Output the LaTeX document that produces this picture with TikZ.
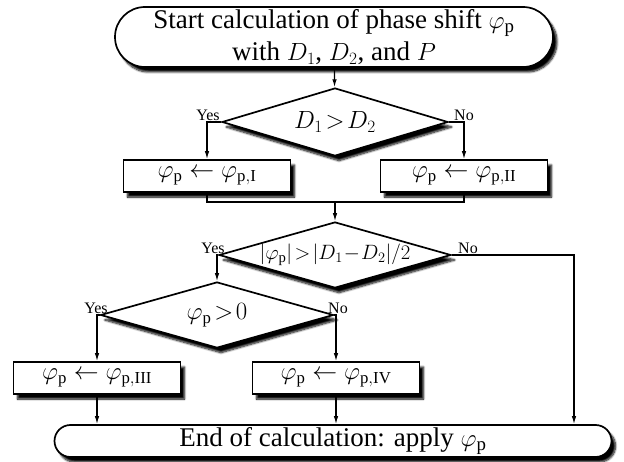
\documentclass[tikz,border=0pt]{standalone}
\usepackage{fontspec}
\setmainfont{Liberation Serif}
\usetikzlibrary{shapes.geometric,shadows.blur,arrows.meta}
\begin{document}
\begin{tikzpicture}[x=1pt,y=-1pt,
  every node/.style={inner sep=0pt},
  shad/.style={blur shadow={shadow xshift=4pt,shadow yshift=-5pt,shadow blur steps=8,shadow blur radius=2pt,shadow opacity=100}},
  term/.style={draw,line width=1.7pt,fill=white,shad,rounded corners=#1},
  procbox/.style={draw,line width=1.7pt,fill=white,shad,minimum width=167pt,minimum height=32pt,font=\fontsize{24}{26}\selectfont},
  decide/.style={diamond,draw,line width=1.7pt,fill=white,shad,minimum width=#1,font=\fontsize{24}{26}\selectfont},
  lbl/.style={font=\fontsize{16}{17}\selectfont,anchor=south},
  conn/.style={line width=1.2pt},
  arr/.style={conn,-{Latex[length=8pt,width=4.5pt]}}
]
\useasboundingbox (0,0) rectangle (624,462);

\node[term=30pt,minimum width=438pt,minimum height=60pt,align=center,
      font=\fontsize{27}{32}\selectfont] (start) at (334,37)
  {Start calculation of phase shift $\varphi_{\mathrm{p}}$\\with $D_1$, $D_2$, and $P$};

\node[decide=226pt,minimum height=68pt] (d1) at (335,122) {\makebox[0pt]{$D_1\!>\!D_2$}};
\node[procbox] (b1) at (207,176) {$\varphi_{\mathrm{p}}\leftarrow\varphi_{\mathrm{p,I}}$};
\node[procbox] (b2) at (464,176) {$\varphi_{\mathrm{p}}\leftarrow\varphi_{\mathrm{p,II}}$};
\coordinate (join) at (335,202);

\node[decide=232pt,minimum height=66pt] (d2) at (335,255)
  {\makebox[0pt]{\fontsize{21}{23}\selectfont$|\varphi_{\mathrm{p}}|\!>\!|D_1\!-\!D_2|/2$}};
\node[decide=233pt,minimum height=66pt] (d3) at (217,315) {\makebox[0pt]{$\varphi_{\mathrm{p}}\!>\!0$}};
\node[procbox] (b3) at (97,378) {$\varphi_{\mathrm{p}}\leftarrow\varphi_{\mathrm{p,III}}$};
\node[procbox] (b4) at (336,378) {$\varphi_{\mathrm{p}}\leftarrow\varphi_{\mathrm{p,IV}}$};
\node[term=16pt,minimum width=557pt,minimum height=32pt,
      font=\fontsize{27}{30}\selectfont] (endn) at (333,441)
  {End of calculation: apply $\varphi_{\mathrm{p}}$};
\coordinate (rx) at (574,0);

\node[lbl] (y1) at (208,121) {Yes};
\node[lbl] (n1) at (464,121) {No};
\node[lbl] (y2) at (213,254) {Yes};
\node[lbl] (n2) at (468,254) {No};
\node[lbl] (y3) at (96,314) {Yes};
\node[lbl] (n3) at (338,314) {No};

\draw[arr] (start) -- (d1);
\draw[arr] (d1.west) -| (b1.north);
\draw[arr] (d1.east) -| (b2.north);
\draw[conn] (b1.south) |- (join);
\draw[conn] (b2.south) |- (join);
\draw[arr] (join) -- (d2.north);
\draw[arr] (d2.west) -| (d3.north);
\draw[arr] (d2.east) -| (rx |- endn.north);
\draw[arr] (d3.west) -| (b3.north);
\draw[arr] (d3.east) -| (b4.north);
\draw[arr] (b3.south) -- (b3.south |- endn.north);
\draw[arr] (b4.south) -- (b4.south |- endn.north);
\end{tikzpicture}
\end{document}
